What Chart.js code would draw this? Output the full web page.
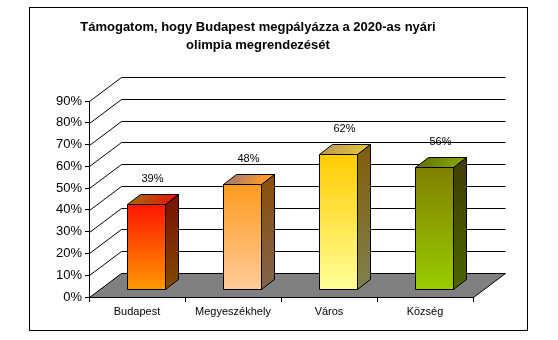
<!DOCTYPE html>
<html>
<head>
<meta charset="utf-8">
<script src="https://cdn.jsdelivr.net/npm/chart.js@4.4.1/dist/chart.umd.min.js"></script>
<style>
  html, body { margin: 0; padding: 0; background: #fff; }
  #wrap { width: 558px; height: 340px; }
</style>
</head>
<body>
<div id="wrap"><canvas id="chart"></canvas></div>
<script>
// chart data
const titleLines = ['Támogatom, hogy Budapest megpályázza a 2020-as nyári', 'olimpia megrendezését'];
const categories = ['Budapest', 'Megyeszékhely', 'Város', 'Község'];
const values = [39, 48, 62, 56];
const yMin = 0;
const yMax = 90;
const yStep = 10;

// bar colours: front (top, bottom), side (top, bottom), top face (back, front)
const frontColors = [['#ff1500', '#ff9900'], ['#ff9a20', '#ffcc99'], ['#ffcc00', '#ffff99'], ['#808000', '#99cc00']];
const sideColors = [['#7a1500', '#804c00'], ['#8a5010', '#80644c'], ['#806010', '#80804c'], ['#404000', '#4c6600']];
const topColors = [['#b05a10', '#e02000'], ['#b08060', '#ff9930'], ['#c0a050', '#e0c040'], ['#6a7a00', '#80a000']];

// 3d look
const DEPTH = { x: 32, y: -24 };      // depth of the walls / floor
const BAR_SHIFT = { x: 9, y: -8 };    // bars stand a bit back from the front edge
const BAR_DEPTH = { x: 13, y: -10 };  // depth of each bar

Chart.defaults.font.family = '"Liberation Sans", Arial, sans-serif';
Chart.defaults.color = '#000';

const px = v => Math.round(v) + 0.5;

function poly(ctx, pts, fill) {
    ctx.beginPath();
    ctx.moveTo(pts[0][0], pts[0][1]);
    for (let i = 1; i < pts.length; i++) ctx.lineTo(pts[i][0], pts[i][1]);
    ctx.closePath();
    ctx.fillStyle = fill;
    ctx.fill();
    ctx.stroke();
}

// walls, gridlines and floor behind everything
const walls3d = {
    id: 'walls3d',
    beforeDraw(chart) {
        const { ctx, scales: { x, y }, chartArea: a } = chart;
        ctx.save();
        ctx.strokeStyle = '#000';
        ctx.lineWidth = 1;
        // outer frame
        ctx.strokeRect(29.5, 7.5, 498, 323);

        const l = px(a.left), r = px(a.right);
        for (let v = yMin + yStep; v <= yMax; v += yStep) {
            const yy = px(y.getPixelForValue(v));
            ctx.beginPath();
            ctx.moveTo(l, yy);
            ctx.lineTo(l + DEPTH.x, yy + DEPTH.y);
            ctx.lineTo(r + DEPTH.x, yy + DEPTH.y);
            ctx.stroke();
        }
        // floor
        const y0 = px(y.getPixelForValue(yMin));
        ctx.lineJoin = 'miter';
        poly(ctx, [[l, y0], [r, y0], [r + DEPTH.x, y0 + DEPTH.y], [l + DEPTH.x, y0 + DEPTH.y]], '#808080');
        ctx.restore();
    },
    afterDatasetsDraw(chart) {
        const { ctx } = chart;
        const meta = chart.getDatasetMeta(0);
        ctx.save();
        ctx.strokeStyle = '#000';
        ctx.lineWidth = 1;
        ctx.lineJoin = 'miter';
        meta.data.forEach((bar, i) => {
            const w = bar.width;
            const x0 = px(bar.x - w / 2 + BAR_SHIFT.x);
            const x1 = px(bar.x + w / 2 + BAR_SHIFT.x);
            const yt = px(bar.y + BAR_SHIFT.y);
            const yb = px(bar.base + BAR_SHIFT.y);
            const dx = BAR_DEPTH.x, dy = BAR_DEPTH.y;

            let g = ctx.createLinearGradient(0, yt, 0, yb);
            g.addColorStop(0, sideColors[i][0]);
            g.addColorStop(1, sideColors[i][1]);
            poly(ctx, [[x1, yt], [x1 + dx, yt + dy], [x1 + dx, yb + dy], [x1, yb]], g);

            g = ctx.createLinearGradient(x0 + dx, yt + dy, x1, yt);
            g.addColorStop(0, topColors[i][0]);
            g.addColorStop(1, topColors[i][1]);
            poly(ctx, [[x0, yt], [x0 + dx, yt + dy], [x1 + dx, yt + dy], [x1, yt]], g);

            g = ctx.createLinearGradient(0, yt, 0, yb);
            g.addColorStop(0, frontColors[i][0]);
            g.addColorStop(1, frontColors[i][1]);
            poly(ctx, [[x0, yt], [x1, yt], [x1, yb], [x0, yb]], g);

            // value label
            ctx.fillStyle = '#000';
            ctx.font = '11px "Liberation Sans", Arial, sans-serif';
            ctx.textAlign = 'center';
            ctx.textBaseline = 'middle';
            ctx.fillText(values[i] + '%', (x0 + x1) / 2 + 6, yt - 26);
        });
        ctx.restore();
    }
};

new Chart(document.getElementById('chart'), {
    type: 'bar',
    plugins: [walls3d],
    data: {
        labels: categories,
        datasets: [{
            data: values,
            backgroundColor: 'rgba(0,0,0,0)',
            borderWidth: 0,
            barPercentage: 0.4,
            categoryPercentage: 1
        }]
    },
    options: {
        responsive: true,
        maintainAspectRatio: false,
        animation: false,
        devicePixelRatio: 1,
        layout: { padding: { left: 43, right: 85, top: 0, bottom: 0 } },
        plugins: {
            legend: { display: false },
            tooltip: { enabled: false },
            title: {
                display: true,
                text: titleLines,
                color: '#000',
                font: { size: 13, weight: 'bold', lineHeight: 18 / 13 },
                padding: { top: 18, bottom: 47 }
            }
        },
        scales: {
            x: {
                grid: { display: true, drawOnChartArea: false, drawTicks: true, tickLength: 5, color: '#000', offset: true },
                border: { display: true, color: '#000' },
                ticks: { font: { size: 11 }, color: '#000', padding: 3, maxRotation: 0 },
                afterFit(s) { s.height = 43; }
            },
            y: {
                min: yMin,
                max: yMax,
                grid: { display: true, drawOnChartArea: false, drawTicks: true, tickLength: 4, color: '#000' },
                border: { display: true, color: '#000' },
                ticks: { stepSize: yStep, font: { size: 13 }, color: '#000', padding: 3, callback: v => v + '%' },
                afterFit(s) { s.width = 46; }
            }
        }
    }
});
</script>
</body>
</html>
